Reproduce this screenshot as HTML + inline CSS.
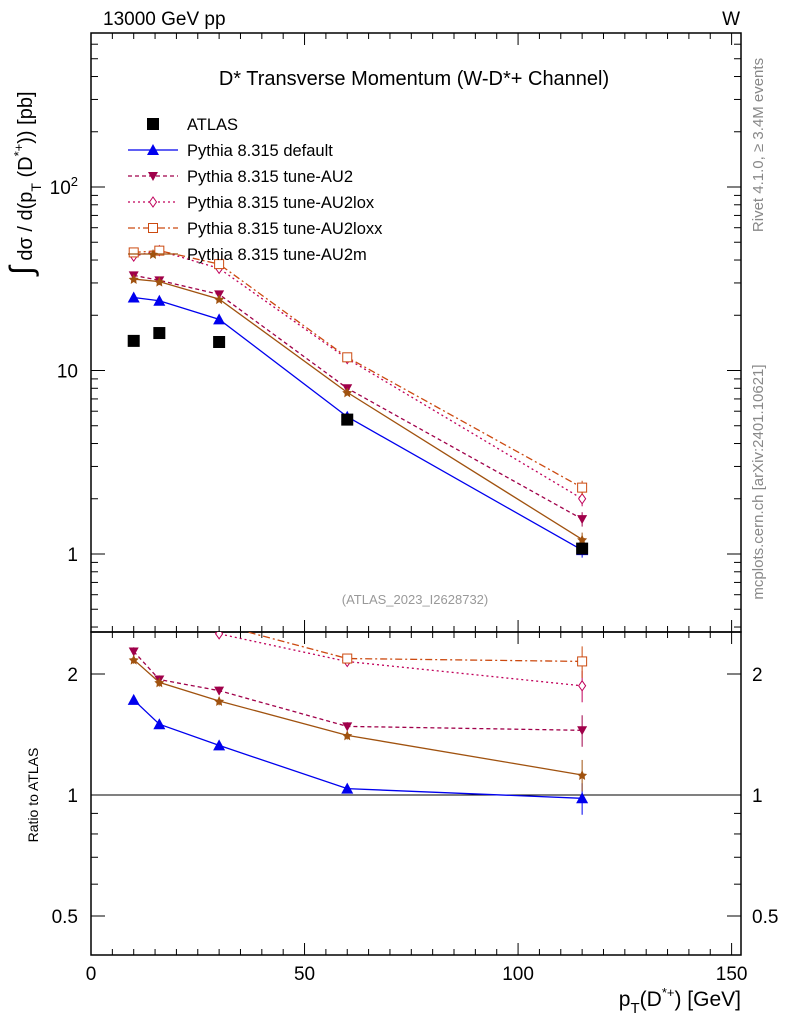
<!DOCTYPE html>
<html><head><meta charset="utf-8"><style>
body{margin:0;background:#fff}
svg{font-family:"Liberation Sans",sans-serif}
</style></head><body>
<svg id="c" width="786" height="1024" viewBox="0 0 786 1024" xmlns="http://www.w3.org/2000/svg">
<text x="103" y="25" font-size="19">13000 GeV pp</text>
<text x="740" y="25" font-size="19" text-anchor="end">W</text>
<text x="414" y="85" font-size="20" text-anchor="middle">D* Transverse Momentum (W-D*+ Channel)</text>
<text transform="translate(763,482) rotate(-90)" font-size="15" fill="#888" text-anchor="middle">mcplots.cern.ch [arXiv:2401.10621]</text>
<text transform="translate(763,145) rotate(-90)" font-size="15" fill="#888" text-anchor="middle">Rivet 4.1.0, ≥ 3.4M events</text>
<text x="415" y="604" font-size="13" fill="#999" text-anchor="middle">(ATLAS_2023_I2628732)</text>
<text transform="translate(32,275) rotate(-90)" font-size="20"><tspan font-size="32">∫</tspan> dσ / d(p<tspan dy="9" font-size="14">T</tspan><tspan dy="-9"> (D</tspan><tspan dy="-9" font-size="13">*+</tspan><tspan dy="9">)) [pb]</tspan></text>
<text transform="translate(38,795) rotate(-90)" font-size="14" text-anchor="middle">Ratio to ATLAS</text>
<text x="741" y="1006" font-size="21" text-anchor="end">p<tspan dy="7" font-size="15">T</tspan><tspan dy="-7">(D</tspan><tspan dy="-9" font-size="13">*+</tspan><tspan dy="9">) [GeV]</tspan></text>
<g id="g"></g>
</svg>
<script>
const xs=[10,16,30,60,115];
const atlas=[14.5,16,14.3,5.4,1.07];
const sDefault=[25,24,19,5.6,1.05];
const sAU2=[33,31,26,8.0,1.55];
const sAU2lox=[42,45,36,11.6,2.0];
const sAU2loxx=[44,45,38,11.8,2.3];
const sAU2m=[31.5,30.5,24.5,7.6,1.2];
const xTicks=[0,50,100,150];
const yTicks=[1,10,100];
const rTicks=[0.5,1,2];

const L=91,R=741,T=33,B=632,RT=632,RB=955;
const X=v=>L+(v-0)/(152.2)*(R-L);
const Y=v=>554-Math.log10(v)*183.5;
const RY=v=>795-Math.log2(v)*121;
const g=document.getElementById('g');
const NS='http://www.w3.org/2000/svg';
function el(t,a,p){const e=document.createElementNS(NS,t);for(const k in a)e.setAttribute(k,a[k]);(p||g).appendChild(e);return e;}

let f=el('rect',{x:L,y:T,width:R-L,height:B-T,fill:'none',stroke:'#000','stroke-width':1.5});


f=el('rect',{x:L,y:RT,width:R-L,height:RB-RT,fill:'none',stroke:'#000','stroke-width':1.5});


let ln=el('line',{x1:L,x2:R,y1:RY(1),y2:RY(1),stroke:'#000'});



for(let v=0;v<=150;v+=5){const big=v%50===0;
 for(const yb of [B,RB]){el('line',{x1:X(v),x2:X(v),y1:yb,y2:yb-(big?12:6),stroke:'#000'});el('line',{x1:X(v),x2:X(v),y1:yb===B?T:RT,y2:(yb===B?T:RT)+(big?12:6),stroke:'#000'});}}
xTicks.forEach(v=>{const t=el('text',{x:X(v),y:980,'font-size':19,'text-anchor':'middle'});t.textContent=v;
 
 });
for(let d=-1;d<=2;d++)for(let m=1;m<=9;m++){const v=m*Math.pow(10,d);const y=Y(v);if(y<T||y>B)continue;const w=m===1?14:7;
 el('line',{x1:L,x2:L+w,y1:y,y2:y,stroke:'#000'});el('line',{x1:R,x2:R-w,y1:y,y2:y,stroke:'#000'});}
yTicks.forEach(v=>{const t=el('text',{x:78,y:Y(v)+7,'font-size':19,'text-anchor':'end'});
 if(v===100){t.textContent='10';const s=el('tspan',{dy:-8,'font-size':13},t);s.textContent='2';}else t.textContent=v;
 
 });
[0.5,0.6,0.7,0.8,0.9,1,2].forEach(v=>{const y=RY(v);const big=rTicks.includes(v);const w=big?14:7;
 el('line',{x1:L,x2:L+w,y1:y,y2:y,stroke:'#000'});el('line',{x1:R,x2:R-w,y1:y,y2:y,stroke:'#000'});});
rTicks.forEach(v=>{for(const [x,a] of [[78,'end'],[752,'start']]){const t=el('text',{x:x,y:RY(v)+7,'font-size':19,'text-anchor':a});t.textContent=v;
 
 }});

const defs=el('defs',{});
const c1=el('clipPath',{id:'cm'},defs);el('rect',{x:L,y:T,width:R-L,height:B-T},c1);
const c2=el('clipPath',{id:'cr'},defs);el('rect',{x:L,y:RT,width:R-L,height:RB-RT},c2);

function marker(p,type,x,y,col){
 if(type==='sq')return el('rect',{x:x-6,y:y-6,width:12,height:12,fill:col},p);
 if(type==='tri')return el('polygon',{points:`${x},${y-6} ${x-6},${y+5} ${x+6},${y+5}`,fill:col},p);
 if(type==='dtri')return el('polygon',{points:`${x},${y+5} ${x-5},${y-4} ${x+5},${y-4}`,fill:col},p);
 if(type==='dia')return el('polygon',{points:`${x},${y-5} ${x-3.5},${y} ${x},${y+5} ${x+3.5},${y}`,fill:'#fff',stroke:col},p);
 if(type==='osq')return el('rect',{x:x-4.5,y:y-4.5,width:9,height:9,fill:'#fff',stroke:col},p);
 if(type==='star')return el('polygon',{points:`${x},${y-5} ${x+1.5},${y-1.5} ${x+5},${y-1} ${x+2.5},${y+1.5} ${x+3},${y+5} ${x},${y+3} ${x-3},${y+5} ${x-2.5},${y+1.5} ${x-5},${y-1} ${x-1.5},${y-1.5}`,fill:col},p);
}
const series=[
 {name:'Pythia 8.315 default',vals:sDefault,col:'#0000ee',dash:'',m:'tri',id:'default'},
 {name:'Pythia 8.315 tune-AU2',vals:sAU2,col:'#a0004a',dash:'4,3',m:'dtri',id:'au2'},
 {name:'Pythia 8.315 tune-AU2lox',vals:sAU2lox,col:'#c0005a',dash:'2,3',m:'dia',id:'au2lox'},
 {name:'Pythia 8.315 tune-AU2loxx',vals:sAU2loxx,col:'#cc4a10',dash:'7,3,2,3',m:'osq',id:'au2loxx'},
 {name:'Pythia 8.315 tune-AU2m',vals:sAU2m,col:'#a0520f',dash:'',m:'star',id:'au2m'},
];
const gm=el('g',{'clip-path':'url(#cm)'}),gr=el('g',{'clip-path':'url(#cr)'});
series.forEach(s=>{
 const pl=el('polyline',{points:xs.map((x,i)=>X(x)+','+Y(s.vals[i])).join(' '),fill:'none',stroke:s.col,'stroke-width':1.3,'stroke-dasharray':s.dash},gm);
 
 
 const rl=el('polyline',{points:xs.map((x,i)=>X(x)+','+RY(s.vals[i]/atlas[i])).join(' '),fill:'none',stroke:s.col,'stroke-width':1.3,'stroke-dasharray':s.dash},gr);
 
 
 xs.forEach((x,i)=>{
  const e=0.06*s.vals[i]*(i===4?1.5:0.4);
  el('line',{x1:X(x),x2:X(x),y1:Y(s.vals[i]+e),y2:Y(s.vals[i]-e),stroke:s.col},gm);
  const r=s.vals[i]/atlas[i],re=0.06*r*(i===4?1.5:0.4);
  el('line',{x1:X(x),x2:X(x),y1:RY(r+re),y2:RY(r-re),stroke:s.col},gr);
  const m=marker(gm,s.m,X(x),Y(s.vals[i]),s.col);
  
  
  const m2=marker(gr,s.m,X(x),RY(r),s.col);
  
  
 });
});
xs.forEach((x,i)=>{const m=marker(gm,'sq',X(x),Y(atlas[i]),'#000');
 
 });

const lg=el('g',{});


const entries=[{name:'ATLAS',m:'sq',col:'#000',dash:null}].concat(series);
entries.forEach((s,i)=>{const y=124+26*i;
 if(s.dash!==null)el('line',{x1:128,x2:178,y1:y,y2:y,stroke:s.col,'stroke-width':1.3,'stroke-dasharray':s.dash},lg);
 marker(lg,s.m,153,y,s.col);
 const t=el('text',{x:187,y:y+6,'font-size':16.5},lg);t.textContent=s.name;
 
 });
</script>
</body></html>
